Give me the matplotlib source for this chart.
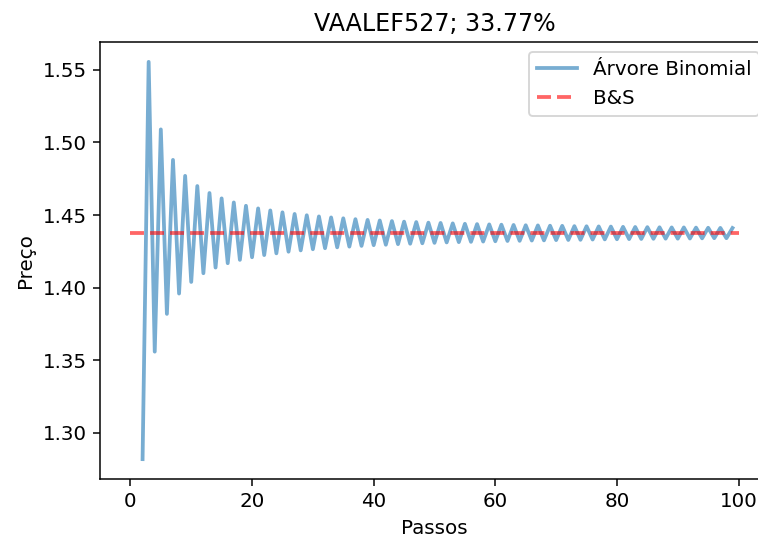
import numpy as np
import matplotlib
matplotlib.use('Agg')
import matplotlib.pyplot as plt

# numero de passos da arvore (2 a 99)
passos = list(range(2, 100))

# preco pela arvore binomial (passos 2..99)
precos = [
    1.2820, 1.5555, 1.3560, 1.5090, 1.3820, 1.4880, 1.3960, 1.4770,
    1.4040, 1.4700, 1.4100, 1.4652, 1.4139, 1.4615, 1.4169, 1.4587,
    1.4192, 1.4564, 1.4210, 1.4546, 1.4225, 1.4532, 1.4237, 1.4519,
    1.4248, 1.4508, 1.4257, 1.4499, 1.4265, 1.4491, 1.4272, 1.4484,
    1.4278, 1.4478, 1.4283, 1.4472, 1.4288, 1.4467, 1.4293, 1.4463,
    1.4296, 1.4459, 1.4300, 1.4455, 1.4303, 1.4452, 1.4306, 1.4448,
    1.4309, 1.4446, 1.4312, 1.4443, 1.4314, 1.4440, 1.4316, 1.4438,
    1.4318, 1.4436, 1.4320, 1.4434, 1.4322, 1.4432, 1.4323, 1.4430,
    1.4325, 1.4429, 1.4326, 1.4427, 1.4328, 1.4426, 1.4329, 1.4424,
    1.4330, 1.4423, 1.4332, 1.4422, 1.4333, 1.4421, 1.4334, 1.4419,
    1.4335, 1.4418, 1.4336, 1.4417, 1.4337, 1.4416, 1.4338, 1.4415,
    1.4338, 1.4415, 1.4339, 1.4414, 1.4340, 1.4413, 1.4341, 1.4412,
    1.4341, 1.4411,
]

# preco de Black & Scholes
preco_bs = 1.4375
bs_x = [0, 100]

titulo = 'VAALEF527; 33.77%'

plt.rcParams['font.size'] = 10.5

dpi = 136
fig = plt.figure(figsize=(758 / dpi, 539 / dpi), dpi=dpi)
ax = fig.add_axes([100 / 758, 60 / 539, 669 / 758, 437 / 539])

ax.plot(passos, precos, color='#1f77b4', alpha=0.6, lw=2, label='Árvore Binomial')
ax.plot(bs_x, [preco_bs, preco_bs], color='red', alpha=0.6, lw=2,
        linestyle='--', label='B&S')

ax.set_title(titulo, fontsize=12.6)
ax.set_xlabel('Passos')
ax.set_ylabel('Preço')
ax.set_xticks([0, 20, 40, 60, 80, 100])
ax.set_yticks([1.30, 1.35, 1.40, 1.45, 1.50, 1.55])
ax.legend(loc='upper right')

fig.savefig('out.png', dpi=dpi)
